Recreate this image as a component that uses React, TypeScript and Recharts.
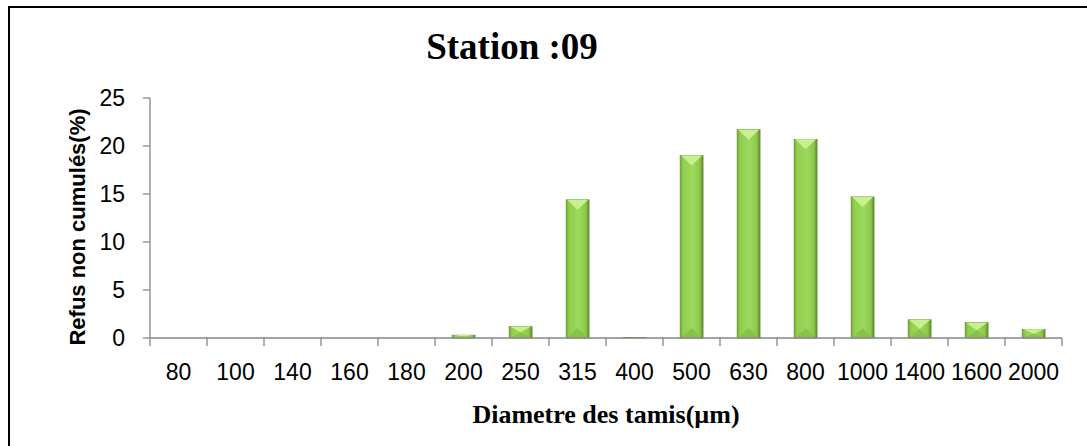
import { BarChart, Bar, XAxis, YAxis } from 'recharts';

const sieves = ['80', '100', '140', '160', '180', '200', '250', '315', '400', '500', '630', '800', '1000', '1400', '1600', '2000'];
const refus = [0, 0, 0, 0, 0, 0.3, 1.2, 14.4, 0.05, 19.0, 21.7, 20.7, 14.7, 1.9, 1.6, 0.9];
const yTicks = [0, 5, 10, 15, 20, 25];

const data = sieves.map((s, i) => ({ sieve: s, refus: refus[i] }));

const AXIS = '#868686';
const FONT = 'Liberation Sans, Arial, sans-serif';

// green bar with a bevelled top, like the Excel preset
function BevelBar(props: any) {
  const { x, y, width, height, index } = props;
  if (!height || height <= 0) return null;
  const d = Math.min(width / 2, height / 2, 10);
  const cx = x + width / 2;
  const id = `g${index}`;
  return (
    <g>
      <defs>
        <linearGradient id={id} x1="0" y1="0" x2="1" y2="0">
          <stop offset="0%" stopColor="#78aa38" />
          <stop offset="14%" stopColor="#92cf50" />
          <stop offset="55%" stopColor="#9cd95c" />
          <stop offset="86%" stopColor="#8cc74a" />
          <stop offset="100%" stopColor="#5c8a29" />
        </linearGradient>
      </defs>
      <rect x={x} y={y} width={width} height={height} fill={`url(#${id})`} stroke="#5e8c2c" strokeWidth={0.6} />
      <polygon points={`${x + 1},${y} ${x + width - 1},${y} ${cx},${y + d}`} fill="#c9f090" />
      <polygon points={`${x + 1},${y + height} ${x + width - 1},${y + height} ${cx},${y + height - d}`} fill="#89c24a" />
    </g>
  );
}

// Excel puts the x tick marks between the categories, not under them
function SieveTick(props: any) {
  const { x, y, payload, index, width, visibleTicksCount } = props;
  const band = width / visibleTicksCount;
  const left = x - band / 2;
  const right = x + band / 2;
  return (
    <g>
      <line x1={left} y1={y} x2={left} y2={y + 8} stroke={AXIS} strokeWidth={1.3} />
      {index === visibleTicksCount - 1 && (
        <line x1={right} y1={y} x2={right} y2={y + 8} stroke={AXIS} strokeWidth={1.3} />
      )}
      <text x={x} y={y + 42} textAnchor="middle" fill="#000" fontSize={23} fontFamily={FONT}>
        {payload.value}
      </text>
    </g>
  );
}

export default function App() {
  return (
    <div style={{ position: 'fixed', left: 0, top: 0, width: 1087, height: 446, background: '#fff', overflow: 'hidden' }}>
      <div
        style={{
          position: 'absolute', left: 8, top: 6, width: 1100, height: 460,
          borderTop: '2px solid #000', borderLeft: '2px solid #000',
        }}
      />
      <div style={{ position: 'absolute', left: 0, top: 0 }}>
        <BarChart width={1087} height={446} data={data} margin={{ top: 98, right: 25, bottom: 78, left: 90 }} barCategoryGap="30%">
          <XAxis
            dataKey="sieve" height={30} stroke={AXIS} strokeWidth={1.3}
            tickLine={false} tickSize={0} tickMargin={0} interval={0} tick={<SieveTick />}
          />
          <YAxis
            domain={[0, 25]} ticks={yTicks} width={60} stroke={AXIS} strokeWidth={1.3}
            tickSize={7} tickMargin={18} tickLine={{ stroke: AXIS, strokeWidth: 1.3 }}
            tick={{ fill: '#000', fontSize: 23, fontFamily: FONT }}
          />
          <Bar dataKey="refus" shape={<BevelBar />} isAnimationActive={false} />
        </BarChart>
      </div>
      <svg width={1087} height={446} style={{ position: 'absolute', left: 0, top: 0, pointerEvents: 'none' }}>
        <text x={512} y={59} textAnchor="middle" fontFamily="Liberation Serif, Times New Roman, serif" fontWeight="bold" fontSize={37}>
          Station :09
        </text>
        <text
          x={85} y={227} transform="rotate(-90 85 227)" textAnchor="middle"
          fontFamily={FONT} fontWeight="bold" fontSize={22}
        >
          Refus non cumulés(%)
        </text>
        <text x={606} y={423} textAnchor="middle" fontFamily="Liberation Serif, Times New Roman, serif" fontWeight="bold" fontSize={26}>
          Diametre des tamis(µm)
        </text>
      </svg>
    </div>
  );
}
